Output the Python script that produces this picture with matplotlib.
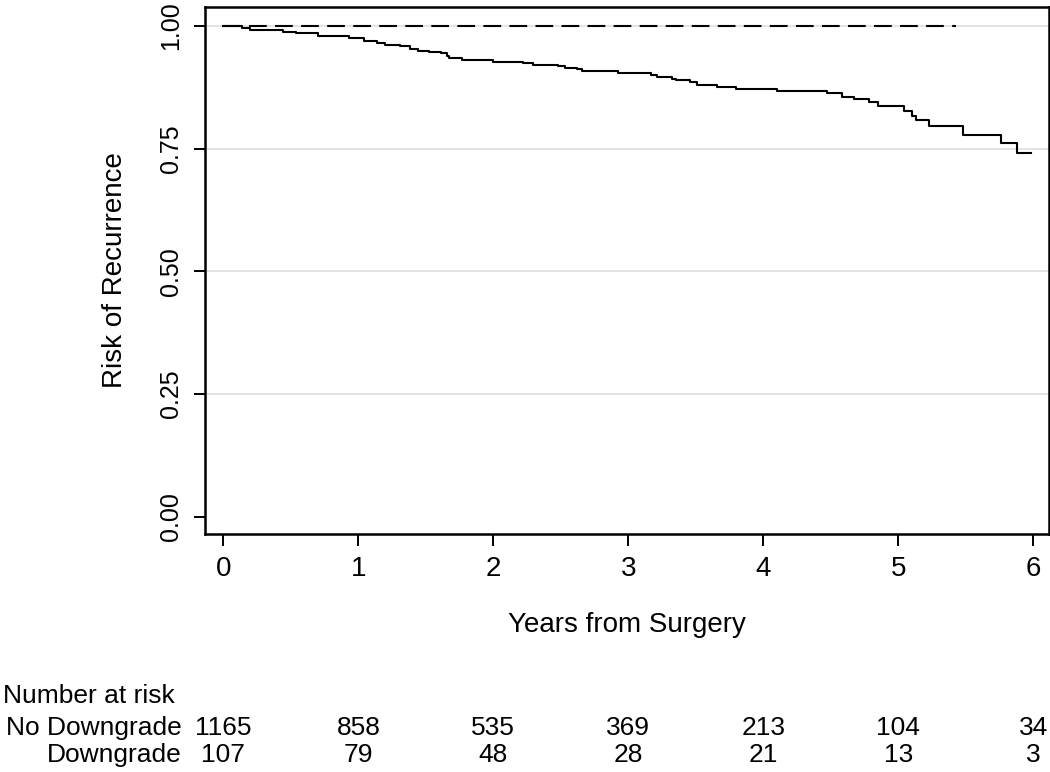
import matplotlib
matplotlib.use("Agg")
import matplotlib.pyplot as plt
import matplotlib.transforms as mtransforms

plt.rcParams['font.family'] = ['Liberation Sans', 'DejaVu Sans']

# Kaplan-Meier estimate, No Downgrade group
nd_time = [0, 0.14, 0.20, 0.44, 0.54, 0.70, 0.93, 1.04, 1.14, 1.20, 1.31, 1.38,
           1.44, 1.52, 1.61, 1.66, 1.67, 1.77, 2.00, 2.22, 2.29, 2.48, 2.53, 2.62,
           2.66, 2.92, 3.17, 3.21, 3.32, 3.35, 3.46, 3.51, 3.66, 3.80, 4.10, 4.47,
           4.58, 4.67, 4.78, 4.85, 5.04, 5.10, 5.13, 5.23, 5.48, 5.76, 5.88, 5.98]
nd_surv = [1.0, 0.996, 0.992, 0.988, 0.985, 0.978, 0.975, 0.968, 0.965, 0.961, 0.958, 0.953,
           0.949, 0.947, 0.944, 0.939, 0.934, 0.930, 0.927, 0.924, 0.920, 0.917, 0.913, 0.911,
           0.907, 0.903, 0.899, 0.896, 0.892, 0.889, 0.885, 0.879, 0.875, 0.871, 0.868, 0.862,
           0.855, 0.851, 0.845, 0.837, 0.827, 0.817, 0.807, 0.795, 0.778, 0.762, 0.740, 0.740]

# Downgrade group: no events
dg_time = [0, 5.43]
dg_surv = [1.0, 1.0]

# number at risk table
risk_times = [0, 1, 2, 3, 4, 5, 6]
risk_no_downgrade = [1165, 858, 535, 369, 213, 104, 34]
risk_downgrade = [107, 79, 48, 28, 21, 13, 3]
row_labels = ['No Downgrade', 'Downgrade']

W, H = 1050, 772
fig = plt.figure(figsize=(W / 100, H / 100), dpi=100)
ax = fig.add_axes([205 / W, 1 - 534 / H, (1049 - 205) / W, (534 - 7) / H])

for g in [0.25, 0.5, 0.75, 1.0]:
    ax.axhline(g, color='#dcdcdc', lw=1.1, zorder=0)

ax.step(nd_time, nd_surv, where='post', color='black', lw=1.5)
ax.plot(dg_time, dg_surv, color='black', lw=1.5, linestyle=(0, (8.5, 4)))

ax.set_xlim(-0.136, 6.116)
ax.set_ylim(-0.0346, 1.038)
ax.set_xticks(risk_times)
ax.set_yticks([0, 0.25, 0.5, 0.75, 1.0])
ax.set_yticklabels(['0.00', '0.25', '0.50', '0.75', '1.00'])

for s in ax.spines.values():
    s.set_linewidth(1.8)
ax.tick_params(axis='x', length=8.6, width=1.4, pad=7, labelsize=20)
ax.tick_params(axis='y', length=8, width=1.4, pad=8, labelsize=18, labelrotation=90)
for lab in ax.get_yticklabels():
    lab.set_va('center')

ax.set_xlabel('Years from Surgery', fontsize=20, labelpad=22)
ax.set_ylabel('Risk of Recurrence', fontsize=20, labelpad=22)

# number at risk table below the plot
trans = mtransforms.blended_transform_factory(ax.transData, fig.transFigure)
fig.text(3 / W, 1 - 703 / H, 'Number at risk', fontsize=19, ha='left', va='baseline')
for label, counts, ypix in [(row_labels[0], risk_no_downgrade, 735),
                            (row_labels[1], risk_downgrade, 762)]:
    yf = 1 - ypix / H
    fig.text(182 / W, yf, label, fontsize=19, ha='right', va='baseline')
    for t, n in zip(risk_times, counts):
        ax.text(t, yf, str(n), transform=trans, fontsize=19,
                ha='center', va='baseline', clip_on=False)

fig.savefig('out.png', dpi=100)
